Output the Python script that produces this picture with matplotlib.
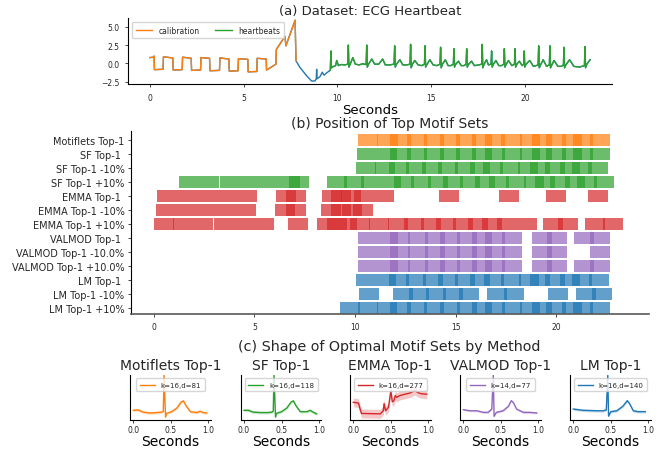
import matplotlib
matplotlib.use("Agg")
import matplotlib.pyplot as plt
import numpy as np

plt.rcParams['font.family'] = ['DejaVu Sans']
plt.rcParams['text.color'] = '#262626'
plt.rcParams['xtick.color'] = '#262626'
plt.rcParams['ytick.color'] = '#262626'

# ---- (a) ECG signal, vertices (seconds, value)
calibration = [(0.00, 0.80), (0.20, 0.85), (0.22, 1.00), (0.24, -0.85), (0.70, -0.80),
               (0.72, 0.90), (1.22, 0.75), (1.24, -0.90), (1.72, -0.85), (1.74, 0.85),
               (2.20, 0.70), (2.22, -0.95), (2.70, -0.90), (2.72, 0.80), (3.18, 0.70),
               (3.20, -1.00), (3.71, -0.95), (3.73, 0.75), (4.21, 0.60), (4.23, -1.05),
               (4.70, -1.00), (4.72, 0.65), (5.22, 0.55), (5.24, -1.15), (5.70, -1.10),
               (5.72, 0.70), (6.20, 0.60), (6.22, -0.90), (6.72, -0.10), (6.74, 1.90),
               (7.20, 3.70), (7.25, 2.40), (7.74, 5.90), (7.79, 0.35)]
transition = [(7.79, 0.35), (8.00, -0.55), (8.36, -1.70), (8.62, -2.40), (8.80, -2.40),
              (8.87, -2.10), (8.89, -0.80), (8.91, -2.10), (9.07, -1.80), (9.19, -1.20),
              (9.28, -1.60), (9.42, -1.30), (9.58, -1.00)]
heartbeats = [(9.58, -1.00), (9.62, -0.90), (9.65, 1.70), (9.68, -0.60), (9.80, -0.40),
              (9.90, -0.30), (9.96, 0.40), (10.05, -0.30), (10.20, -0.15), (10.40, -0.20),
              (10.55, -0.10), (10.58, 2.50), (10.61, -0.50), (10.68, -0.10), (10.82, 0.80),
              (10.95, -0.10), (11.15, -0.20), (11.35, -0.05), (11.53, -0.15), (11.56, 2.50),
              (11.59, -0.50), (11.66, -0.10), (11.83, 0.60), (11.98, -0.10), (12.20, -0.10),
              (12.41, 0.60), (12.55, -0.20), (12.80, -0.20), (13.02, -0.10), (13.05, 2.40),
              (13.08, -0.50), (13.15, -0.10), (13.33, 0.50), (13.48, -0.20), (13.70, -0.20),
              (13.87, -0.10), (13.90, 2.60), (13.93, -0.60), (14.00, -0.10), (14.12, 0.40),
              (14.30, -0.20), (14.50, -0.30), (14.64, -0.10), (14.67, 2.40), (14.70, -0.50),
              (14.78, -0.10), (14.93, 0.50), (15.10, -0.20), (15.30, -0.30), (15.47, -0.10),
              (15.50, 2.20), (15.53, -0.60), (15.60, -0.10), (15.75, 0.50), (15.90, -0.30),
              (16.05, -0.30), (16.18, -0.10), (16.21, 2.00), (16.24, -0.50), (16.31, -0.10),
              (16.45, 0.30), (16.60, -0.30), (16.75, -0.30), (16.86, -0.10), (16.89, 2.00),
              (16.92, -0.50), (17.00, -0.10), (17.15, 0.30), (17.30, -0.30), (17.55, -0.20),
              (17.69, -0.10), (17.72, 2.60), (17.75, -0.60), (17.82, -0.10), (17.95, 0.50),
              (18.05, -0.20), (18.19, -0.10), (18.22, 1.70), (18.25, -0.50), (18.32, -0.10),
              (18.45, 0.40), (18.60, -0.30), (18.75, -0.30), (18.87, -0.10), (18.90, 2.00),
              (18.93, -0.50), (19.00, -0.10), (19.12, 0.40), (19.30, -0.30), (19.44, -0.10),
              (19.47, 2.00), (19.50, -0.50), (19.57, -0.10), (19.70, 0.30), (19.85, -0.30),
              (19.93, -0.10), (19.96, 1.70), (19.99, -0.50), (20.06, -0.10), (20.25, 0.40),
              (20.45, -0.40), (20.60, -0.30), (20.70, -0.20), (20.73, 2.40), (20.76, -0.60),
              (20.83, -0.20), (20.97, 0.50), (21.15, -0.40), (21.30, -0.20), (21.33, 2.40),
              (21.36, -0.60), (21.43, -0.20), (21.55, 0.40), (21.75, -0.40), (21.95, -0.40),
              (22.05, -0.20), (22.08, 2.20), (22.11, -0.60), (22.18, -0.20), (22.38, 0.50),
              (22.60, -0.40), (22.90, -0.50), (23.17, -0.30), (23.20, 2.30), (23.23, -0.60),
              (23.30, -0.10), (23.47, 0.50)]

# ---- (b) start of every motif occurrence per method (seconds)
motif_len = 1.0
row_labels = ["Motiflets Top-1", "SF Top-1 ", "SF Top-1 -10%", "SF Top-1 +10%",
              "EMMA Top-1 ", "EMMA Top-1 -10%", "EMMA Top-1 +10%",
              "VALMOD Top-1 ", "VALMOD Top-1 -10.0%", "VALMOD Top-1 +10.0%",
              "LM Top-1 ", "LM Top-1 -10%", "LM Top-1 +10%"]
row_colors = ["tab:orange", "tab:green", "tab:green", "tab:green",
              "tab:red", "tab:red", "tab:red",
              "tab:purple", "tab:purple", "tab:purple",
              "tab:blue", "tab:blue", "tab:blue"]
motiflets_pos = [10.15, 11.11, 11.76, 12.58, 13.43, 14.22, 15.02, 15.81, 16.46, 17.27,
                 18.21, 18.79, 19.49, 20.28, 20.83, 21.67]
sf_pos = [10.10, 11.07, 11.76, 12.58, 13.43, 14.20, 15.02, 15.81, 16.45, 17.28,
          18.20, 18.77, 19.49, 20.28, 20.83, 21.67]
sf_m10_pos = [10.05, 11.01, 11.69, 12.53, 13.33, 14.12, 14.97, 15.71, 16.36, 17.20,
              18.10, 18.69, 19.44, 20.18, 20.78, 21.57]
sf_p10_pos = [1.26, 2.25, 3.29, 4.28, 5.27, 6.27, 6.72, 8.61, 9.45, 10.30, 11.28, 11.93,
              12.78, 13.62, 14.37, 15.21, 15.96, 16.65, 17.50, 18.39, 18.94, 19.69,
              20.43, 21.03, 21.87]
emma_pos = [0.17, 1.16, 2.15, 3.14, 4.13, 6.07, 6.57, 8.36, 8.81, 9.30, 9.95, 10.94,
            14.17, 17.15, 19.49, 21.57]
emma_m10_pos = [0.12, 1.11, 2.10, 3.09, 4.08, 6.03, 6.56, 8.31, 8.81, 9.33, 9.89]
emma_p10_pos = [0.01, 0.96, 1.95, 3.00, 3.99, 4.97, 6.67, 8.13, 8.61, 9.12, 9.74, 10.69,
                11.63, 12.43, 13.28, 14.02, 14.87, 15.61, 16.31, 17.05, 18.04, 19.34,
                20.08, 21.42, 22.32]
valmod_pos = [10.15, 11.13, 11.74, 12.63, 13.47, 14.22, 15.06, 15.81, 16.45, 17.30,
              18.79, 19.53, 20.88, 21.67]
valmod_m10_pos = [10.15, 11.13, 11.74, 12.63, 13.47, 14.22, 15.06, 15.81, 16.45, 17.30,
                  18.79, 19.53, 21.67]
valmod_p10_pos = [10.15, 11.13, 11.74, 12.63, 13.47, 14.22, 15.06, 15.81, 16.45, 17.30,
                  18.79, 19.53, 20.88, 21.67]
lm_pos = [10.05, 11.04, 11.69, 12.53, 13.38, 14.12, 14.97, 15.71, 16.41, 17.25,
          18.15, 18.69, 19.44, 20.18, 20.78, 21.62]
lm_m10_pos = [10.20, 11.89, 12.68, 13.53, 14.37, 15.17, 16.56, 17.40, 19.58, 20.98, 21.77]
lm_p10_pos = [9.25, 10.15, 11.09, 11.76, 12.58, 13.43, 14.22, 15.06, 15.81, 16.45, 17.30,
              18.19, 18.79, 19.49, 20.28, 20.83, 21.67]
positions = [motiflets_pos, sf_pos, sf_m10_pos, sf_p10_pos, emma_pos, emma_m10_pos,
             emma_p10_pos, valmod_pos, valmod_m10_pos, valmod_p10_pos,
             lm_pos, lm_m10_pos, lm_p10_pos]

# ---- (c) mean motif shapes (seconds, value)
shape_titles = ["Motiflets Top-1", "SF Top-1", "EMMA Top-1", "VALMOD Top-1", "LM Top-1"]
shape_labels = ["k=16,d=81", "k=16,d=118", "k=16,d=277", "k=14,d=77", "k=16,d=140"]
shape_colors = ["tab:orange", "tab:green", "tab:red", "tab:purple", "tab:blue"]
shape_spread = [0.15, 0.15, 0.5, 0.12, 0.15]
motiflets_shape = [(0.00, 0.05), (0.06, 0.10), (0.13, -0.15), (0.22, -0.25), (0.32, -0.20),
                   (0.38, -0.15), (0.40, -0.05), (0.41, 4.0), (0.43, -0.70), (0.44, -0.30),
                   (0.51, -0.10), (0.58, 0.30), (0.64, 1.00), (0.67, 1.10), (0.70, 0.60),
                   (0.76, -0.10), (0.85, -0.20), (0.89, -0.05), (0.93, -0.20), (0.98, -0.25)]
sf_shape = [(0.00, 0.05), (0.06, 0.05), (0.12, -0.15), (0.22, -0.20), (0.32, -0.20),
            (0.37, -0.15), (0.39, -0.05), (0.40, 4.0), (0.42, -0.70), (0.43, -0.30),
            (0.50, -0.10), (0.57, 0.30), (0.63, 1.00), (0.66, 1.10), (0.69, 0.60),
            (0.75, -0.10), (0.84, -0.10), (0.88, 0.05), (0.92, -0.15), (0.97, -0.35)]
emma_shape = [(0.00, 0.95), (0.07, 0.85), (0.09, 0.20), (0.11, -0.30), (0.36, -0.35),
              (0.40, 0.00), (0.41, 0.80), (0.43, 0.00), (0.47, 0.40), (0.50, 2.25),
              (0.52, 1.00), (0.54, 1.10), (0.56, 1.70), (0.58, 1.50), (0.62, 1.70),
              (0.69, 1.85), (0.76, 2.00), (0.82, 2.25), (0.87, 2.00), (0.91, 1.90),
              (0.98, 1.85)]
valmod_shape = [(0.00, 0.12), (0.09, 0.00), (0.18, 0.00), (0.27, -0.18), (0.33, -0.18),
                (0.38, 0.19), (0.40, 4.0), (0.41, -0.62), (0.44, -0.18), (0.53, 0.00),
                (0.60, 0.49), (0.64, 1.13), (0.67, 0.87), (0.71, 0.19), (0.80, -0.18),
                (0.89, -0.18), (0.98, -0.25)]
lm_shape = [(0.00, 0.19), (0.13, 0.05), (0.31, 0.00), (0.40, 0.00), (0.44, 0.10),
            (0.46, 4.0), (0.47, -0.60), (0.50, -0.10), (0.58, 0.00), (0.66, 0.50),
            (0.72, 1.13), (0.75, 0.80), (0.80, 0.00), (0.86, -0.10), (0.96, -0.10)]
shapes = [motiflets_shape, sf_shape, emma_shape, valmod_shape, lm_shape]

W, H = 670, 456
fig = plt.figure(figsize=(W / 100, H / 100), dpi=100)


def rect(left, top, right, bottom):
    return [left / W, 1 - bottom / H, (right - left) / W, (bottom - top) / H]


def despine(ax):
    ax.spines['top'].set_visible(False)
    ax.spines['right'].set_visible(False)


# (a)
ax1 = fig.add_axes(rect(128, 19, 612, 85.3))
full = calibration + transition[1:] + heartbeats[1:]
ax1.plot([p[0] for p in full], [p[1] for p in full], color='tab:blue', lw=1)
ax1.plot([p[0] for p in calibration], [p[1] for p in calibration], color='tab:orange', lw=1,
         label='calibration')
ax1.plot([p[0] for p in heartbeats], [p[1] for p in heartbeats], color='tab:green', lw=1,
         label='heartbeats')
ax1.set_xlim(-1.17, 24.64)
ax1.set_ylim(-2.85, 6.2)
ax1.set_yticks([-2.5, 0.0, 2.5, 5.0])
ax1.set_xticks([0, 5, 10, 15, 20])
ax1.tick_params(labelsize=5.5, length=2.5, width=0.6)
ax1.legend(loc='upper left', ncol=2, fontsize=5.5, handlelength=2.2, borderpad=0.5,
           columnspacing=2.0)
ax1.set_title('(a) Dataset: ECG Heartbeat', fontsize=9.5, pad=3)
ax1.set_xlabel('Seconds', fontsize=9.5, labelpad=1)
despine(ax1)

# (b)
ax2 = fig.add_axes(rect(130.7, 132, 649, 315))
for i in range(len(row_labels)):
    ax2.barh(i, motif_len, left=positions[i], height=0.85, color=row_colors[i], alpha=0.7,
             linewidth=0)
ax2.set_yticks(range(len(row_labels)))
ax2.set_yticklabels(row_labels)
ax2.set_ylim(12.45, -0.62)
ax2.set_xlim(-1.14, 24.6)
ax2.set_xticks([0, 5, 10, 15, 20])
ax2.tick_params(axis='y', labelsize=7, length=2.5, width=0.6, pad=2)
ax2.tick_params(axis='x', labelsize=5.5, length=2.5, width=0.6)
ax2.spines['bottom'].set_color('0.35')
ax2.spines['bottom'].set_linewidth(1.2)
ax2.set_title('(b) Position of Top Motif Sets', fontsize=10, pad=3)
despine(ax2)

# (c)
fig.text(389.5 / W, 1 - 347 / H, '(c) Shape of Optimal Motif Sets by Method', fontsize=10.3,
         ha='center', va='center')
zero_px = [133.3, 244.0, 353.3, 463.3, 573.3]
for j in range(5):
    left = zero_px[j] - 0.04 * 75
    ax = fig.add_axes(rect(left, 376, left + 1.07 * 75, 420.7))
    x = np.array([p[0] for p in shapes[j]])
    y = np.array([p[1] for p in shapes[j]])
    ax.fill_between(x, y - shape_spread[j], y + shape_spread[j], color=shape_colors[j],
                    alpha=0.25, linewidth=0)
    ax.plot(x, y, color=shape_colors[j], lw=1, label=shape_labels[j])
    ax.set_xlim(-0.04, 1.03)
    ax.set_ylim(-1, 4)
    ax.set_yticks([])
    ax.set_xticks([0.0, 0.5, 1.0])
    ax.tick_params(labelsize=5.5, length=2.5, width=0.6, pad=1.5)
    ax.legend(loc='upper center', fontsize=5, handlelength=2.2, borderpad=0.5)
    ax.set_title(shape_titles[j], fontsize=10, pad=4)
    ax.set_xlabel('Seconds', fontsize=10, labelpad=0)
    despine(ax)

fig.savefig('out.png', dpi=100)
